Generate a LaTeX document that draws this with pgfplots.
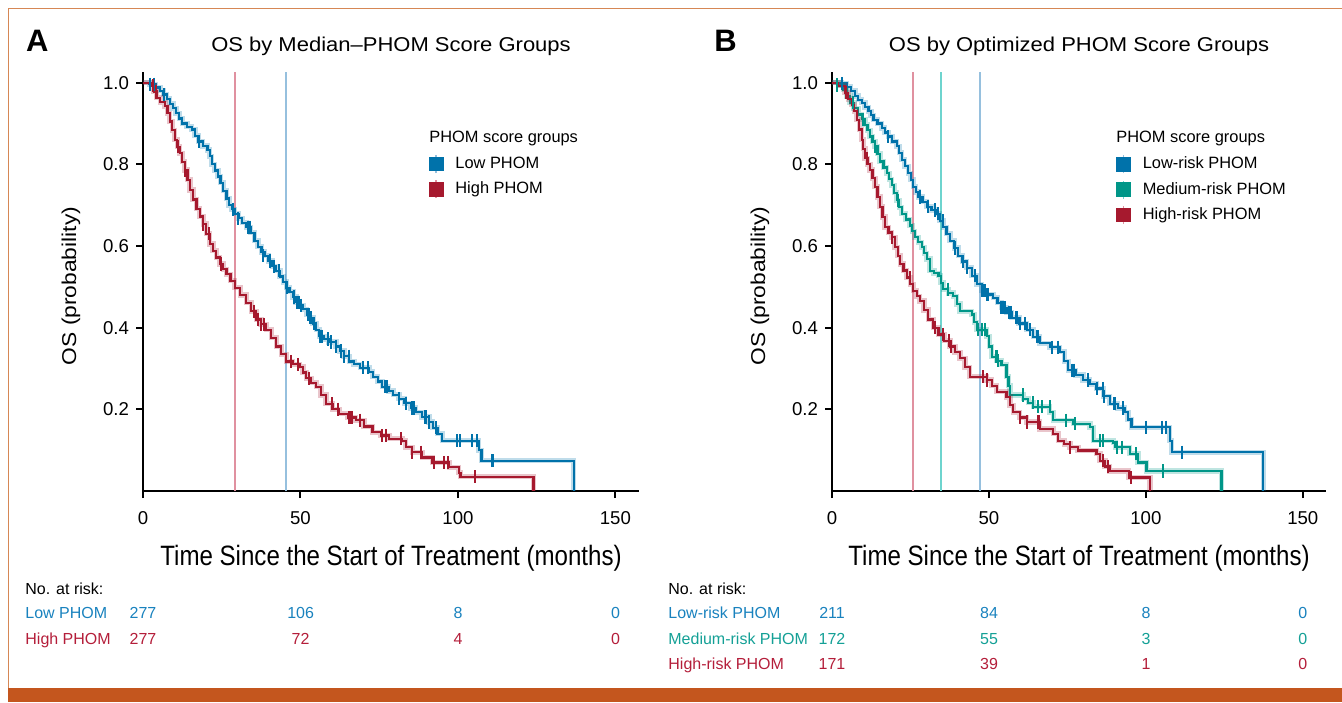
\documentclass[border=0pt]{standalone}
\usepackage{fontspec}
\setmainfont{Liberation Sans}
\newfontfamily\condx[FakeStretch=0.86]{Liberation Sans}
\newfontfamily\widey[FakeStretch=1.14]{Liberation Sans}
\newfontfamily\widet[FakeStretch=1.1]{Liberation Sans}
\usepackage{pgfplots}
\pgfplotsset{compat=1.18}

\definecolor{kmblue}{RGB}{0,114,170}
\definecolor{kmred}{RGB}{166,25,46}
\definecolor{kmteal}{RGB}{0,150,136}
\definecolor{kmbluel}{RGB}{150,192,222}
\definecolor{kmredl}{RGB}{224,145,160}
\definecolor{kmteall}{RGB}{110,212,206}
\definecolor{txblue}{RGB}{25,130,190}
\definecolor{txred}{RGB}{180,30,58}
\definecolor{txteal}{RGB}{20,160,150}
\definecolor{framecol}{RGB}{214,135,85}
\definecolor{barcol}{RGB}{196,86,30}

\pgfplotsset{
 kmaxis/.style={
  scale only axis, ymin=0, ymax=1.026,
  axis x line*=bottom, axis y line*=left,
  axis line style={line width=1pt, black, -},
  tick align=outside, major tick length=3.5pt,
  tick style={black, line width=1pt},
  xtick={0,50,100,150}, ytick={0.2,0.4,0.6,0.8,1.0},
  yticklabel style={/pgf/number format/.cd, fixed, fixed zerofill, precision=1},
  /pgf/number format/assume math mode=true,
  tick label style={font=\fontsize{9.3}{11}\selectfont},
  xticklabel style={yshift=-3pt},
  legend style={draw=none, fill=none, anchor=north west,
    font=\fontsize{8.2}{9.5}\selectfont, row sep=1.2pt, inner sep=0pt,
    /tikz/every odd column/.append style={column sep=4pt}},
  legend cell align=left,
 },
 km/.style={const plot, line width=1.1pt, #1, preaction={draw, #1, line width=2.6pt, opacity=0.25}, forget plot},
 cens/.style={only marks, mark=|, mark size=3.3pt, #1, mark options={line width=1pt}, forget plot},
 med/.style={#1, line width=1pt, forget plot},
}

\begin{document}
\begin{tikzpicture}
\path[use as bounding box] (0,0) rectangle (671pt,351pt);
\fill[barcol] (4pt,0pt) rectangle (671pt,7.1pt);
\draw[framecol, line width=0.8pt] (4.2pt,7pt) -- (4.2pt,346.8pt) -- (671pt,346.8pt);

% ---------------- Panel A ----------------
\begin{axis}[kmaxis, at={(71.5pt,105.5pt)}, anchor=south west,
  width=248pt, height=209.5pt, xmin=0, xmax=157.5,
  legend style={at={(rel axis cs:0.575,0.808)}}]
\addplot[med=kmredl] coordinates {(29.2,0) (29.2,1.026)};
\addplot[med=kmbluel] coordinates {(45.4,0) (45.4,1.026)};
\addplot[km=kmblue] coordinates {(0,1)(2,0.996)(4,0.988)(5.5,0.98)(6.5,0.971)(7.5,0.96)(8.5,0.948)(9.5,0.937)(10.5,0.925)(11.5,0.912)(12.5,0.9)(14,0.892)(15.5,0.885)(16.5,0.87)(17.5,0.856)(19,0.845)(20.5,0.835)(21.2,0.82)(21.8,0.8)(22.8,0.785)(23.8,0.77)(24.6,0.755)(25.5,0.735)(26.5,0.716)(27.3,0.7)(28.2,0.69)(29.1,0.679)(30.3,0.668)(31.5,0.657)(32.8,0.646)(34.2,0.632)(35.4,0.613)(36.5,0.598)(37.6,0.585)(38.6,0.576)(39.8,0.563)(41,0.55)(42.3,0.539)(43.5,0.525)(44.5,0.512)(45.5,0.498)(46.5,0.488)(47.6,0.475)(48.6,0.462)(49.7,0.455)(50.8,0.445)(52,0.432)(52.8,0.424)(54,0.41)(55,0.395)(56,0.379)(57.5,0.372)(59,0.365)(61.3,0.354)(62.5,0.343)(63.8,0.33)(65.5,0.317)(67,0.31)(69,0.302)(71.8,0.292)(73,0.28)(74.5,0.268)(76,0.255)(78,0.245)(79.5,0.236)(81.3,0.226)(83,0.215)(85,0.203)(86.6,0.193)(88.5,0.181)(90.8,0.169)(92,0.155)(93.5,0.14)(95,0.123)(106.6,0.1)(107.5,0.074)(136.8,0)};
\addplot[km=kmred] coordinates {(0,1)(2.8,0.992)(3.5,0.978)(4.3,0.963)(5.5,0.952)(7,0.942)(7.8,0.925)(8.5,0.905)(9.3,0.883)(10.1,0.86)(10.9,0.843)(11.7,0.827)(12.5,0.806)(13.3,0.786)(14.1,0.762)(14.9,0.737)(15.9,0.714)(17,0.691)(18,0.672)(19.1,0.654)(20.1,0.63)(21.2,0.605)(22.2,0.588)(23.3,0.572)(24.4,0.556)(25.5,0.543)(26.5,0.531)(27.8,0.515)(29.1,0.498)(30.9,0.48)(32.8,0.461)(34.4,0.44)(36,0.42)(37.5,0.408)(39.1,0.395)(40.7,0.375)(42.3,0.354)(43.9,0.335)(45.5,0.317)(47.5,0.31)(49.7,0.304)(50.8,0.29)(51.8,0.276)(53.4,0.265)(55,0.255)(56.5,0.235)(58.1,0.214)(60.2,0.2)(62.3,0.189)(65,0.18)(67.6,0.173)(70.2,0.158)(72.9,0.144)(75.5,0.136)(78.2,0.128)(82.3,0.123)(83.4,0.107)(85.5,0.095)(88.7,0.082)(91.9,0.07)(97.2,0.058)(100.3,0.045)(100.8,0.035)(124,0)};
\addplot[cens=kmblue] coordinates {(2.2,0.996)(3.6,0.996)(6.6,0.971)(17.8,0.856)(28.6,0.69)(30.3,0.668)(33.2,0.646)(33.6,0.646)(34,0.646)(38.1,0.576)(40.2,0.563)(41.6,0.55)(43.2,0.539)(45.7,0.498)(48.1,0.475)(48.8,0.462)(49.1,0.462)(49.4,0.462)(50.2,0.455)(52.3,0.432)(52.6,0.432)(53,0.424)(53.4,0.424)(54.4,0.41)(56.2,0.379)(56.5,0.379)(56.8,0.379)(58.6,0.372)(59.7,0.365)(61.3,0.354)(62.9,0.343)(63.9,0.33)(65.3,0.33)(69.7,0.302)(71.6,0.302)(76.7,0.255)(77.1,0.255)(77.5,0.255)(81.3,0.226)(83.4,0.215)(85.5,0.203)(86.1,0.203)(89.5,0.181)(89.9,0.181)(90.8,0.169)(92.9,0.155)(99.8,0.123)(100.5,0.123)(104.5,0.123)(105.9,0.123)(110.7,0.074)(111,0.074)};
\addplot[cens=kmred] coordinates {(3.3,0.992)(4.1,0.978)(11.2,0.843)(13.3,0.786)(19.1,0.654)(21,0.63)(24.9,0.556)(35.4,0.44)(36.5,0.42)(37.5,0.408)(38.3,0.408)(47,0.317)(49.1,0.31)(52.8,0.276)(60,0.214)(61.8,0.2)(65.4,0.18)(65.7,0.18)(66,0.18)(66.3,0.18)(69,0.173)(75.8,0.136)(77.1,0.136)(82,0.128)(85.5,0.095)(88.2,0.095)(92.4,0.07)(95.6,0.07)(96.9,0.07)(105.3,0.035)};
\addlegendimage{legend image code/.code={\draw[kmbluel,line width=0.8pt](3.5pt,-4.5pt)--(3.5pt,4.5pt);\fill[kmblue](0pt,-3.4pt)rectangle(7pt,3.4pt);}}
\addlegendentry{Low PHOM}
\addlegendimage{legend image code/.code={\draw[kmredl,line width=0.8pt](3.5pt,-4.5pt)--(3.5pt,4.5pt);\fill[kmred](0pt,-3.4pt)rectangle(7pt,3.4pt);}}
\addlegendentry{High PHOM}
\end{axis}

% ---------------- Panel B ----------------
\begin{axis}[kmaxis, at={(416pt,105.5pt)}, anchor=south west,
  width=247pt, height=209.5pt, xmin=0, xmax=157.4,
  legend style={at={(rel axis cs:0.574,0.808)}}]
\addplot[med=kmredl] coordinates {(25.7,0) (25.7,1.026)};
\addplot[med=kmteall] coordinates {(34.8,0) (34.8,1.026)};
\addplot[med=kmbluel] coordinates {(47.1,0) (47.1,1.026)};
\addplot[km=kmblue] coordinates {(0,1)(3,0.998)(4.7,0.99)(6,0.98)(7.3,0.967)(8.4,0.958)(9.5,0.951)(10.5,0.94)(11.6,0.93)(12.4,0.92)(13.2,0.909)(14.5,0.9)(15.8,0.889)(16.8,0.878)(17.9,0.868)(19.2,0.856)(20.6,0.844)(21.4,0.828)(22.2,0.811)(23.2,0.795)(24.3,0.778)(25.1,0.762)(25.9,0.745)(26.7,0.732)(27.5,0.72)(28.8,0.708)(30.2,0.696)(31.7,0.688)(33.3,0.679)(34.3,0.662)(35.4,0.646)(36.5,0.63)(37.6,0.613)(38.9,0.595)(40.2,0.576)(41.5,0.562)(42.9,0.547)(44.5,0.527)(46.1,0.506)(47.7,0.49)(49.3,0.481)(51.4,0.473)(52.7,0.461)(54,0.449)(55.6,0.437)(57.2,0.424)(59.6,0.41)(62,0.395)(64.1,0.378)(66.2,0.362)(69.4,0.352)(72.6,0.341)(74,0.318)(75.3,0.296)(77.6,0.284)(80,0.272)(82.1,0.262)(84.3,0.251)(86.4,0.232)(88.5,0.214)(91,0.203)(93.3,0.193)(94.3,0.175)(95.4,0.156)(107.6,0.123)(108.2,0.095)(137.4,0)};
\addplot[km=kmteal] coordinates {(0,1)(2,0.994)(3.6,0.983)(4.7,0.967)(5.7,0.951)(7,0.937)(8.4,0.922)(9.5,0.91)(10.5,0.897)(11.3,0.883)(12.1,0.868)(12.9,0.856)(13.7,0.844)(14.5,0.826)(15.3,0.807)(16.4,0.792)(17.4,0.778)(18.2,0.763)(19,0.749)(19.8,0.73)(20.6,0.712)(21.4,0.695)(22.2,0.679)(23.5,0.665)(24.8,0.65)(25.6,0.636)(26.4,0.621)(27.5,0.609)(28.6,0.597)(29.4,0.582)(30.2,0.568)(31.2,0.539)(32.5,0.533)(33.9,0.527)(34.6,0.51)(35.4,0.494)(37,0.485)(38.6,0.477)(39.7,0.458)(40.8,0.44)(44.5,0.432)(45.3,0.413)(46.1,0.395)(49.3,0.379)(50.1,0.354)(50.9,0.329)(52.5,0.319)(54,0.309)(55.6,0.28)(56.2,0.258)(56.7,0.235)(60.9,0.226)(62.5,0.216)(64.1,0.206)(69.4,0.193)(70.5,0.173)(76.9,0.165)(82.2,0.156)(83.2,0.123)(89.6,0.119)(90.3,0.107)(94.9,0.091)(97.5,0.07)(100.2,0.049)(124.1,0)};
\addplot[km=kmred] coordinates {(0,1)(2,0.992)(4.1,0.975)(5.2,0.96)(6.3,0.946)(7.1,0.93)(7.9,0.909)(8.7,0.885)(9.5,0.86)(10,0.838)(10.5,0.815)(11.3,0.8)(12.1,0.786)(12.9,0.766)(13.7,0.745)(14.5,0.72)(15.3,0.696)(16.1,0.671)(16.9,0.646)(18,0.633)(19,0.621)(20.1,0.597)(20.9,0.576)(21.7,0.556)(22.8,0.54)(23.8,0.523)(24.9,0.506)(25.9,0.49)(27,0.477)(28,0.465)(29.3,0.443)(30.7,0.42)(32.3,0.4)(33.9,0.383)(35.8,0.368)(37.6,0.354)(39.2,0.34)(40.8,0.325)(42.4,0.303)(43.9,0.28)(49.3,0.272)(50.9,0.258)(52.5,0.243)(55.6,0.23)(56.7,0.21)(57.7,0.193)(59.8,0.18)(62,0.169)(66.2,0.152)(70.5,0.14)(72.1,0.123)(74,0.115)(75.8,0.107)(78.4,0.099)(84.3,0.091)(85.4,0.074)(87,0.06)(88.5,0.049)(94.5,0.033)(101.3,0)};
\addplot[cens=kmblue] coordinates {(3.1,0.998)(17.9,0.868)(28,0.72)(30.7,0.696)(32.8,0.688)(33.9,0.679)(35.3,0.662)(39.2,0.595)(41.8,0.562)(42.9,0.547)(45.5,0.527)(47.7,0.49)(48.2,0.49)(48.6,0.49)(49.3,0.481)(49.8,0.481)(54,0.449)(54.4,0.449)(55.1,0.449)(56.5,0.437)(56.9,0.437)(58.6,0.424)(59,0.424)(59.9,0.41)(61.5,0.41)(63.1,0.395)(65.2,0.378)(65.7,0.378)(70,0.352)(72.1,0.352)(76.6,0.296)(77,0.296)(81.6,0.272)(84.3,0.251)(86.2,0.251)(86.6,0.232)(90,0.214)(90.3,0.214)(92.8,0.203)(100.2,0.156)(105,0.156)(106.3,0.156)(111.4,0.095)};
\addplot[cens=kmteal] coordinates {(1.7,0.994)(6.8,0.951)(10,0.91)(13.7,0.844)(21.1,0.712)(36.9,0.494)(46.6,0.395)(47.7,0.395)(48.7,0.395)(52.3,0.329)(52.6,0.329)(52.9,0.319)(60.9,0.235)(64.1,0.216)(65.7,0.206)(66.8,0.206)(69.4,0.206)(74.7,0.173)(77.4,0.165)(85.4,0.123)(86.4,0.123)(90.7,0.107)(92.3,0.107)(97,0.091)(105.5,0.049)};
\addplot[cens=kmred] coordinates {(4.5,0.975)(11,0.815)(19,0.621)(24.8,0.523)(32.8,0.4)(35.4,0.383)(37.4,0.368)(37.8,0.354)(48.2,0.28)(49.3,0.272)(59.9,0.18)(62,0.169)(65.5,0.169)(65.9,0.169)(75.8,0.107)(86.4,0.074)(88,0.06)(95.4,0.033)};
\addlegendimage{legend image code/.code={\draw[kmbluel,line width=0.8pt](3.5pt,-4.5pt)--(3.5pt,4.5pt);\fill[kmblue](0pt,-3.4pt)rectangle(7pt,3.4pt);}}
\addlegendentry{Low-risk PHOM}
\addlegendimage{legend image code/.code={\draw[kmteall,line width=0.8pt](3.5pt,-4.5pt)--(3.5pt,4.5pt);\fill[kmteal](0pt,-3.4pt)rectangle(7pt,3.4pt);}}
\addlegendentry{Medium-risk PHOM}
\addlegendimage{legend image code/.code={\draw[kmredl,line width=0.8pt](3.5pt,-4.5pt)--(3.5pt,4.5pt);\fill[kmred](0pt,-3.4pt)rectangle(7pt,3.4pt);}}
\addlegendentry{High-risk PHOM}
\end{axis}

% ---------------- titles and labels ----------------
\node[anchor=base west, font=\fontsize{15.5}{16}\selectfont\bfseries, inner sep=0pt] at (12.9pt,325.2pt) {A};
\node[anchor=base west, font=\fontsize{15.5}{16}\selectfont\bfseries, inner sep=0pt] at (357pt,325.2pt) {B};
\node[anchor=base, font=\widet\fontsize{10}{12}\selectfont, inner sep=0pt] at (195.5pt,325.2pt) {OS by Median–PHOM Score Groups};
\node[anchor=base, font=\widet\fontsize{10}{12}\selectfont, inner sep=0pt] at (539.5pt,325.2pt) {OS by Optimized PHOM Score Groups};
\node[anchor=base, font=\condx\fontsize{14}{16}\selectfont, inner sep=0pt] at (195.5pt,68.5pt) {Time Since the Start of Treatment (months)};
\node[anchor=base, font=\condx\fontsize{14}{16}\selectfont, inner sep=0pt] at (539.5pt,68.5pt) {Time Since the Start of Treatment (months)};
\node[anchor=base, rotate=90, font=\widey\fontsize{10}{12}\selectfont, inner sep=0pt] at (38pt,208pt) {OS (probability)};
\node[anchor=base, rotate=90, font=\widey\fontsize{10}{12}\selectfont, inner sep=0pt] at (382.5pt,208pt) {OS (probability)};
\node[anchor=base west, font=\fontsize{8.2}{10}\selectfont, inner sep=0pt] at (214.5pt,279.6pt) {PHOM score groups};
\node[anchor=base west, font=\fontsize{8.2}{10}\selectfont, inner sep=0pt] at (558pt,279.6pt) {PHOM score groups};

% ---------------- risk tables ----------------
\begin{scope}[every node/.style={inner sep=0pt, font=\fontsize{8}{10}\selectfont}]
\node[anchor=base west] at (12.5pt,53.9pt) {No. at risk:};
\node[anchor=base west, txblue] at (12.5pt,41.9pt) {Low PHOM};
\node[anchor=base west, txred] at (12.5pt,29pt) {High PHOM};
\node[anchor=base, txblue] at (71.5pt,41.9pt) {277};
\node[anchor=base, txblue] at (150.3pt,41.9pt) {106};
\node[anchor=base, txblue] at (229pt,41.9pt) {8};
\node[anchor=base, txblue] at (307.8pt,41.9pt) {0};
\node[anchor=base, txred] at (71.5pt,29pt) {277};
\node[anchor=base, txred] at (150.3pt,29pt) {72};
\node[anchor=base, txred] at (229pt,29pt) {4};
\node[anchor=base, txred] at (307.8pt,29pt) {0};

\node[anchor=base west] at (334pt,53.9pt) {No. at risk:};
\node[anchor=base west, txblue] at (334pt,41.9pt) {Low-risk PHOM};
\node[anchor=base west, txteal] at (334pt,29pt) {Medium-risk PHOM};
\node[anchor=base west, txred] at (334pt,16.2pt) {High-risk PHOM};
\node[anchor=base, txblue] at (416pt,41.9pt) {211};
\node[anchor=base, txblue] at (494.5pt,41.9pt) {84};
\node[anchor=base, txblue] at (573pt,41.9pt) {8};
\node[anchor=base, txblue] at (651.4pt,41.9pt) {0};
\node[anchor=base, txteal] at (416pt,29pt) {172};
\node[anchor=base, txteal] at (494.5pt,29pt) {55};
\node[anchor=base, txteal] at (573pt,29pt) {3};
\node[anchor=base, txteal] at (651.4pt,29pt) {0};
\node[anchor=base, txred] at (416pt,16.2pt) {171};
\node[anchor=base, txred] at (494.5pt,16.2pt) {39};
\node[anchor=base, txred] at (573pt,16.2pt) {1};
\node[anchor=base, txred] at (651.4pt,16.2pt) {0};
\end{scope}
\end{tikzpicture}
\end{document}
